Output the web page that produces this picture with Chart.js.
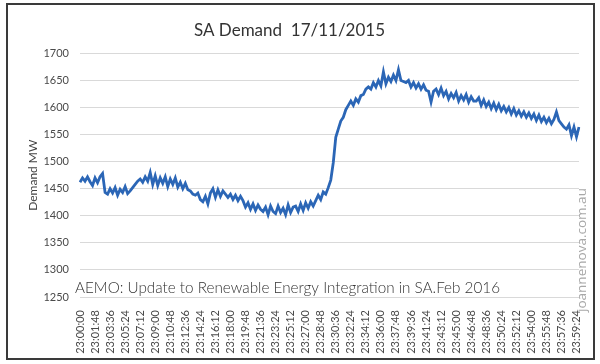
<!DOCTYPE html>
<html>
<head>
<meta charset="utf-8">
<script src="https://cdn.jsdelivr.net/npm/chart.js@4"></script>
<style>
  body { margin: 0; background: #fff; }
  #wrap { position: relative; width: 600px; height: 364px; }
  #frame { position: absolute; left: 6px; top: 3px; width: 585px; height: 353px;
           border: 2px solid #3a3a3a; pointer-events: none; }
</style>
</head>
<body>
<div id="wrap">
  <canvas id="demandChart" width="600" height="364"></canvas>
  <div id="frame"></div>
</div>
<script>
// SA demand, 17/11/2015, 23:00 - 24:00, read every 18 s off the chart
const startSeconds = 23 * 3600;
const stepSeconds = 18;
const labelEvery = 6; // one tick label per 1:48

const demand = [
  1462, 1470, 1464, 1472, 1463, 1456, 1470, 1461, 1472, 1478,
  1443,
  1440, 1450, 1442, 1452, 1438, 1449, 1443, 1454, 1441,
  1446, 1452, 1458, 1464, 1468, 1462, 1472, 1464, 1480,
  1458, 1474, 1456, 1470, 1460, 1472, 1454, 1468, 1458, 1470,
  1453, 1462, 1450, 1460, 1448,
  1446, 1440, 1438, 1442, 1430, 1426, 1436, 1422,
  1442, 1450, 1434, 1448, 1436, 1446,
  1440, 1434, 1440, 1430, 1438, 1428, 1436,
  1428, 1416, 1424, 1412, 1422, 1410, 1420, 1412,
  1408, 1416, 1402, 1418, 1408, 1404, 1418, 1406, 1414, 1402, 1420, 1406, 1416,
  1418, 1408, 1422, 1410, 1424, 1414, 1426, 1418,
  1428, 1438, 1430, 1444, 1440,
  1452, 1466, 1498, 1545, 1560, 1575, 1582, 1596, 1604, 1612,
  1604, 1616, 1610, 1622, 1624, 1634, 1638, 1634, 1646, 1638,
  1650, 1640, 1666, 1644, 1656, 1648, 1660, 1650, 1670, 1650, 1648,
  1646, 1650, 1638, 1646, 1636, 1644, 1634, 1642, 1632, 1630, 1610, 1630, 1634, 1624,
  1636, 1622, 1630, 1616, 1626, 1618, 1628, 1612, 1622, 1614, 1624, 1610, 1620, 1612,
  1612, 1618, 1604, 1614, 1602, 1610, 1598, 1608, 1596, 1606, 1594,
  1602, 1592, 1600, 1588, 1598, 1586, 1594, 1584, 1592, 1582, 1590,
  1580, 1588, 1576, 1586, 1574, 1582, 1572, 1580, 1570, 1578,
  1592, 1576, 1570, 1564, 1560, 1568, 1548, 1564, 1546, 1564
];

function fmtTime(sec) {
  const h = Math.floor(sec / 3600);
  const m = Math.floor((sec % 3600) / 60);
  const s = sec % 60;
  return [h, m, s].map((n) => String(n).padStart(2, "0")).join(":");
}

const times = demand.map((_, i) => fmtTime(startSeconds + i * stepSeconds));

const yMin = 1250;
const yMax = 1700;
const yStep = 50;

const sourceNote = "AEMO: Update to Renewable Energy Integration in SA.Feb 2016";
const watermark = "joannenova.com.au";

const overlayText = {
  id: "overlayText",
  afterDraw(chart) {
    const ctx = chart.ctx;
    ctx.save();
    // source note over the bottom of the plot
    ctx.font = "300 17px Lato";
    const w = ctx.measureText(sourceNote).width;
    const size = 17 * 425 / w;
    ctx.font = `300 ${size}px Lato`;
    ctx.fillStyle = "#333";
    ctx.textBaseline = "alphabetic";
    ctx.fillText(sourceNote, 75, 293);
    // vertical watermark on the right
    ctx.translate(586, 312);
    ctx.rotate(-Math.PI / 2);
    ctx.font = "12px 'Open Sans'";
    const ww = ctx.measureText(watermark).width;
    ctx.font = `${12 * 124 / ww}px 'Open Sans'`;
    ctx.fillStyle = "#a8a8a8";
    ctx.fillText(watermark, 0, 0);
    ctx.restore();
  }
};

const ctx = document.getElementById("demandChart").getContext("2d");
new Chart(ctx, {
  type: "line",
  data: {
    labels: times,
    datasets: [{
      label: "Demand MW",
      data: demand,
      borderColor: "#2b66b6",
      borderWidth: 2.8,
      pointRadius: 0,
      tension: 0,
      fill: false,
    }],
  },
  options: {
    responsive: false,
    animation: false,
    layout: { padding: { left: 0, right: 21, top: 0, bottom: 0 } },
    plugins: {
      legend: { display: false },
      tooltip: { enabled: false },
      title: {
        display: true,
        text: "SA Demand  17/11/2015",
        color: "#333",
        font: { family: "Lato", size: 17, weight: "normal" },
        padding: { top: 20, bottom: 13 },
      },
    },
    scales: {
      x: {
        type: "category",
        offset: false,
        grid: { display: false },
        border: { display: false },
        afterFit: (scale) => { scale.height = 67; },
        ticks: {
          autoSkip: false,
          maxRotation: 90,
          minRotation: 90,
          padding: 5,
          color: "#4a4a4a",
          font: { family: "Lato", size: 11 },
          callback: function (value, index) {
            return index % labelEvery === 0 ? this.getLabelForValue(value) : null;
          },
        },
      },
      y: {
        min: yMin,
        max: yMax,
        grid: { color: "#d9d9d9", drawTicks: false },
        border: { display: false },
        afterFit: (scale) => { scale.width = 80; },
        ticks: {
          stepSize: yStep,
          padding: 11,
          color: "#4a4a4a",
          font: { family: "Lato", size: 11 },
          callback: (v) => String(v),
        },
        title: {
          display: true,
          text: "Demand MW",
          color: "#444",
          font: { family: "Lato", size: 12 },
          padding: { top: 26, bottom: 0 },
        },
      },
    },
  },
  plugins: [overlayText],
});
</script>
</body>
</html>
